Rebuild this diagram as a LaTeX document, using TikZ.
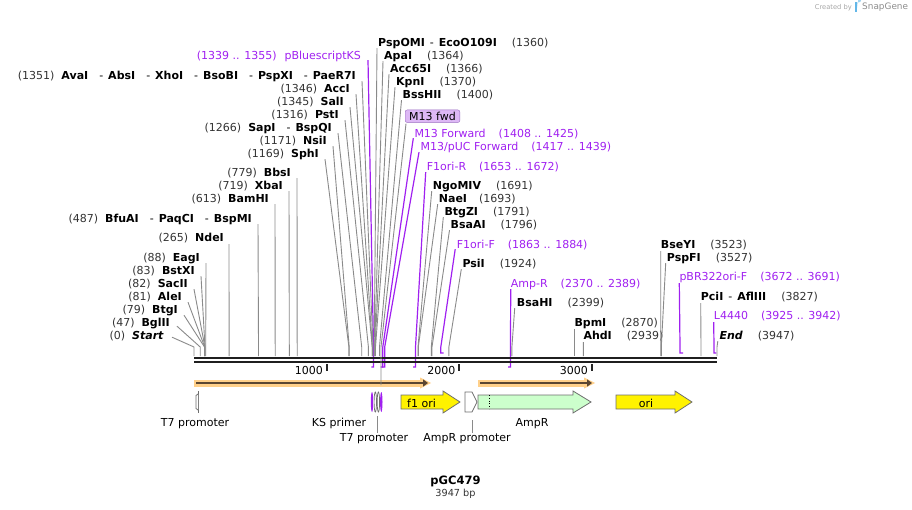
\documentclass[tikz,border=0pt]{standalone}
\usepackage{fontspec}
\setmainfont{DejaVu Sans}
\usepackage{xcolor}
\usetikzlibrary{arrows.meta}
\definecolor{numgray}{HTML}{333333}
\definecolor{cutgray}{HTML}{8A8A8A}
\definecolor{primer}{HTML}{A020F0}
\definecolor{boxlilac}{HTML}{DDB8F5}
\definecolor{boxedge}{HTML}{9A6CC0}
\definecolor{orfband}{HTML}{FFD08A}
\definecolor{orfline}{HTML}{5A4632}
\definecolor{featedge}{HTML}{6E6E6E}
\definecolor{ampgreen}{HTML}{CCFFCC}
\definecolor{logoblue}{HTML}{63B7E8}
\newcommand{\bpn}[1]{\textcolor{numgray}{(#1)}}
\newcommand{\enz}[1]{\textbf{#1}}

\begin{document}
\begin{tikzpicture}[x=1pt,y=-1pt,
  lab/.style={inner sep=0pt,yshift=-1.2pt,font=\fontsize{11}{13}\selectfont},
  labl/.style={lab,anchor=east},
  labr/.style={lab,anchor=west},
  cut/.style={cutgray,line width=0.9pt},
  prim/.style={primer,line width=1.2pt},
  feat/.style={draw=featedge,line width=0.8pt}]
\useasboundingbox (0,0) rectangle (912,510);
\coordinate (bb) at (194,356);

% sites left of the cluster
\node[labl,text=primer] (pbks) at (361,55) {(1339 .. 1355)\hspace{8pt}pBluescriptKS};
\coordinate (pbksT) at (373.5,347);
\coordinate (pbksH) at (371.4,367);
\draw[prim] ([shift={(7,4)}]pbks.east) -- (pbksT) -- (pbksT |- pbksH) -- (pbksH);
\node[labl] (avaI) at (356,75) {\bpn{1351}\hspace{7pt}\enz{AvaI}\hspace{11pt}-\hspace{5pt}\enz{AbsI}\hspace{11pt}-\hspace{5pt}\enz{XhoI}\hspace{11pt}-\hspace{5pt}\enz{BsoBI}\hspace{11pt}-\hspace{5pt}\enz{PspXI}\hspace{11pt}-\hspace{5pt}\enz{PaeR7I}};
\coordinate (s1351) at (373,347);
\draw[cut] ([shift={(6,5)}]avaI.east) -- (s1351) -- (s1351 |- bb);
\node[labl] (accI) at (350,88) {\bpn{1346}\hspace{7pt}\enz{AccI}};
\coordinate (s1346) at (372.3,347);
\draw[cut] ([shift={(6,5)}]accI.east) -- (s1346) -- (s1346 |- bb);
\node[labl] (salI) at (344,101) {\bpn{1345}\hspace{7pt}\enz{SalI}};
\coordinate (s1345) at (372.2,347);
\draw[cut] ([shift={(6,5)}]salI.east) -- (s1345) -- (s1345 |- bb);
\node[labl] (pstI) at (339,114) {\bpn{1316}\hspace{7pt}\enz{PstI}};
\coordinate (s1316) at (368.4,347);
\draw[cut] ([shift={(6,5)}]pstI.east) -- (s1316) -- (s1316 |- bb);
\node[labl] (sapI) at (332,127) {\bpn{1266}\hspace{7pt}\enz{SapI}\hspace{11pt}-\hspace{5pt}\enz{BspQI}};
\coordinate (s1266) at (361.7,347);
\draw[cut] ([shift={(6,5)}]sapI.east) -- (s1266) -- (s1266 |- bb);
\node[labl] (nsiI) at (327,140) {\bpn{1171}\hspace{7pt}\enz{NsiI}};
\coordinate (s1171) at (349.2,347);
\draw[cut] ([shift={(6,5)}]nsiI.east) -- (s1171) -- (s1171 |- bb);
\node[labl] (sphI) at (319,153) {\bpn{1169}\hspace{7pt}\enz{SphI}};
\coordinate (s1169) at (348.9,347);
\draw[cut] ([shift={(6,5)}]sphI.east) -- (s1169) -- (s1169 |- bb);
\node[labl] (bbsI) at (291,172) {\bpn{779}\hspace{7pt}\enz{BbsI}};
\coordinate (s779) at (297.2,347);
\draw[cut] ([shift={(6,5)}]bbsI.east) -- (s779) -- (s779 |- bb);
\node[labl] (xbaI) at (283,185) {\bpn{719}\hspace{7pt}\enz{XbaI}};
\coordinate (s719) at (289.3,347);
\draw[cut] ([shift={(6,5)}]xbaI.east) -- (s719) -- (s719 |- bb);
\node[labl] (bamHI) at (269,198) {\bpn{613}\hspace{7pt}\enz{BamHI}};
\coordinate (s613) at (275.2,347);
\draw[cut] ([shift={(6,5)}]bamHI.east) -- (s613) -- (s613 |- bb);
\node[labl] (bfuAI) at (252,218) {\bpn{487}\hspace{7pt}\enz{BfuAI}\hspace{11pt}-\hspace{5pt}\enz{PaqCI}\hspace{11pt}-\hspace{5pt}\enz{BspMI}};
\coordinate (s487) at (258.5,347);
\draw[cut] ([shift={(6,5)}]bfuAI.east) -- (s487) -- (s487 |- bb);
\node[labl] (ndeI) at (224,237) {\bpn{265}\hspace{7pt}\enz{NdeI}};
\coordinate (s265) at (229.1,347);
\draw[cut] ([shift={(5,6)}]ndeI.east) -- (s265) -- (s265 |- bb);
\node[labl] (eagI) at (200,257) {\bpn{88}\hspace{7pt}\enz{EagI}};
\coordinate (s88) at (205.7,347);
\draw[cut] ([shift={(6,5)}]eagI.east) -- (s88) -- (s88 |- bb);
\node[labl] (bstXI) at (195,270) {\bpn{83}\hspace{7pt}\enz{BstXI}};
\coordinate (s83) at (205,347);
\draw[cut] ([shift={(6,5)}]bstXI.east) -- (s83) -- (s83 |- bb);
\node[labl] (sacII) at (188,283) {\bpn{82}\hspace{7pt}\enz{SacII}};
\coordinate (s82) at (204.9,347);
\draw[cut] ([shift={(6,5)}]sacII.east) -- (s82) -- (s82 |- bb);
\node[labl] (aleI) at (182,296) {\bpn{81}\hspace{7pt}\enz{AleI}};
\coordinate (s81) at (204.7,347);
\draw[cut] ([shift={(6,5)}]aleI.east) -- (s81) -- (s81 |- bb);
\node[labl] (btgI) at (178,309) {\bpn{79}\hspace{7pt}\enz{BtgI}};
\coordinate (s79) at (204.5,347);
\draw[cut] ([shift={(6,5)}]btgI.east) -- (s79) -- (s79 |- bb);
\node[labl] (bglII) at (170,322) {\bpn{47}\hspace{7pt}\enz{BglII}};
\coordinate (s47) at (200.2,347);
\draw[cut] ([shift={(7,3)}]bglII.east) -- (s47) -- (s47 |- bb);
\node[labl] (start) at (164,335) {\bpn{0}\hspace{7pt}\enz{\itshape Start}};
\coordinate (s0) at (194,347);
\draw[cut] ([shift={(8,1)}]start.east) -- (s0) -- (s0 |- bb);

% sites right of the cluster
\node[labr] (pspOMI) at (378,42) {\enz{PspOMI}\hspace{5pt}-\hspace{5pt}\enz{EcoO109I}\hspace{15pt}\bpn{1360}};
\coordinate (s1360) at (374.2,347);
\draw[cut] ([shift={(-1,5)}]pspOMI.west) -- (s1360) -- (s1360 |- bb);
\node[labr] (apaI) at (384,55) {\enz{ApaI}\hspace{15pt}\bpn{1364}};
\coordinate (s1364) at (374.7,347);
\draw[cut] ([shift={(-1,5)}]apaI.west) -- (s1364) -- (s1364 |- bb);
\node[labr] (acc65I) at (390,68) {\enz{Acc65I}\hspace{15pt}\bpn{1366}};
\coordinate (s1366) at (375,347);
\draw[cut] ([shift={(-1,5)}]acc65I.west) -- (s1366) -- (s1366 |- bb);
\node[labr] (kpnI) at (396,81) {\enz{KpnI}\hspace{15pt}\bpn{1370}};
\coordinate (s1370) at (375.5,347);
\draw[cut] ([shift={(-1,5)}]kpnI.west) -- (s1370) -- (s1370 |- bb);
\node[labr] (bssHII) at (402.5,94) {\enz{BssHII}\hspace{15pt}\bpn{1400}};
\coordinate (s1400) at (379.5,347);
\draw[cut] ([shift={(-1,5)}]bssHII.west) -- (s1400) -- (s1400 |- bb);
\node[lab,anchor=west,draw=boxedge,fill=boxlilac,rounded corners=2pt,inner xsep=4pt,minimum height=12.5pt] (m13box) at (405,115) {M13 fwd};
\coordinate (m13F) at (381,347);
\node[labr,text=primer] (m13fw) at (414.3,133) {M13 Forward\hspace{13pt}(1408 .. 1425)};
\coordinate (m13fwT) at (382.8,347);
\coordinate (m13fwH) at (380.6,367);
\draw[prim] ([shift={(-1,4)}]m13fw.west) -- (m13fwT) -- (m13fwT |- m13fwH) -- (m13fwH);
\node[labr,text=primer] (m13puc) at (420.5,146) {M13/pUC Forward\hspace{13pt}(1417 .. 1439)};
\coordinate (m13pucT) at (384.7,347);
\coordinate (m13pucH) at (381.8,367);
\draw[prim] ([shift={(-1.5,5)}]m13puc.west) -- (m13pucT) -- (m13pucT |- m13pucH) -- (m13pucH);
\node[labr,text=primer] (f1r) at (426.7,166) {F1ori-R\hspace{13pt}(1653 .. 1672)};
\coordinate (f1rT) at (415.5,347);
\coordinate (f1rH) at (413,367);
\draw[prim] ([shift={(-1,5)}]f1r.west) -- (f1rT) -- (f1rT |- f1rH) -- (f1rH);
\node[labr] (ngoMIV) at (432.7,185) {\enz{NgoMIV}\hspace{15pt}\bpn{1691}};
\coordinate (s1691) at (418,347);
\draw[cut] ([shift={(-1,5)}]ngoMIV.west) -- (s1691) -- (s1691 |- bb);
\node[labr] (naeI) at (438.7,198) {\enz{NaeI}\hspace{12pt}\bpn{1693}};
\coordinate (s1693) at (418.3,347);
\draw[cut] ([shift={(-1,5)}]naeI.west) -- (s1693) -- (s1693 |- bb);
\node[labr] (btgZI) at (444.3,211) {\enz{BtgZI}\hspace{15pt}\bpn{1791}};
\coordinate (s1791) at (431.3,347);
\draw[cut] ([shift={(-1,5)}]btgZI.west) -- (s1791) -- (s1791 |- bb);
\node[labr] (bsaAI) at (450.5,224) {\enz{BsaAI}\hspace{15pt}\bpn{1796}};
\coordinate (s1796) at (432,347);
\draw[cut] ([shift={(-1,5)}]bsaAI.west) -- (s1796) -- (s1796 |- bb);
\node[labr,text=primer] (f1f) at (456.7,244) {F1ori-F\hspace{13pt}(1863 .. 1884)};
\coordinate (f1fT) at (440.8,347);
\coordinate (f1fH) at (443.6,353);
\draw[prim] ([shift={(-1.5,4)}]f1f.west) -- (f1fT) -- (f1fT |- f1fH) -- (f1fH);
\node[labr] (psiI) at (462.3,263) {\enz{PsiI}\hspace{15pt}\bpn{1924}};
\coordinate (s1924) at (448.9,347);
\draw[cut] ([shift={(-1,5)}]psiI.west) -- (s1924) -- (s1924 |- bb);
\node[labr,text=primer] (ampr) at (510.7,283) {Amp-R\hspace{13pt}(2370 .. 2389)};
\coordinate (amprT) at (510.5,347);
\coordinate (amprH) at (508,367);
\draw[prim] ([shift={(0,5)}]ampr.west) -- (amprT) -- (amprT |- amprH) -- (amprH);
\node[labr] (bsaHI) at (516.7,302) {\enz{BsaHI}\hspace{15pt}\bpn{2399}};
\coordinate (s2399) at (511.9,347);
\draw[cut] ([shift={(-2,5)}]bsaHI.west) -- (s2399) -- (s2399 |- bb);
\node[labr] (bpmI) at (574.3,322) {\enz{BpmI}\hspace{15pt}\bpn{2870}};
\coordinate (s2870) at (574.3,347);
\draw[cut] ([shift={(0,6)}]bpmI.west) -- (s2870) -- (s2870 |- bb);
\node[labr] (ahdI) at (583.3,335) {\enz{AhdI}\hspace{15pt}\bpn{2939}};
\coordinate (s2939) at (583.4,347);
\draw[cut] ([shift={(0,6)}]ahdI.west) -- (s2939) -- (s2939 |- bb);
\node[labr] (bseYI) at (660.7,244) {\enz{BseYI}\hspace{15pt}\bpn{3523}};
\coordinate (s3523) at (660.8,347);
\draw[cut] ([shift={(0,6)}]bseYI.west) -- (s3523) -- (s3523 |- bb);
\node[labr] (pspFI) at (666.7,257) {\enz{PspFI}\hspace{15pt}\bpn{3527}};
\coordinate (s3527) at (661.3,347);
\draw[cut] ([shift={(-1,5)}]pspFI.west) -- (s3527) -- (s3527 |- bb);
\node[labr,text=primer] (pbr) at (679.3,276) {pBR322ori-F\hspace{13pt}(3672 .. 3691)};
\coordinate (pbrT) at (680,347);
\coordinate (pbrH) at (683,353);
\draw[prim] ([shift={(0,6)}]pbr.west) -- (pbrT) -- (pbrT |- pbrH) -- (pbrH);
\node[labr] (pciI) at (700.7,296) {\enz{PciI}\hspace{5pt}-\hspace{5pt}\enz{AflIII}\hspace{15pt}\bpn{3827}};
\coordinate (s3827) at (701,347);
\draw[cut] ([shift={(0,6)}]pciI.west) -- (s3827) -- (s3827 |- bb);
\node[labr,text=primer] (l4440) at (713.7,315) {L4440\hspace{13pt}(3925 .. 3942)};
\coordinate (l4440T) at (714,347);
\coordinate (l4440H) at (716.4,353);
\draw[prim] ([shift={(0,6)}]l4440.west) -- (l4440T) -- (l4440T |- l4440H) -- (l4440H);
\node[labr] (end) at (719.3,335) {\enz{\itshape End}\hspace{15pt}\bpn{3947}};
\coordinate (s3947) at (717,347);
\draw[cut] ([shift={(-1.5,5)}]end.west) -- (s3947) -- (s3947 |- bb);

% backbone and ruler
\draw[black!88,line width=2.4pt] (194,357.8) -- (717,357.8);
\draw[black!88,line width=2.4pt] (194,362.2) -- (717,362.2);
\draw[black!85,line width=2pt] (326.5,364) -- (326.5,371);
\node[labl] (k1) at (323,369) {1000};
\draw[black!85,line width=2pt] (459,364) -- (459,371);
\node[labl] (k2) at (455.5,369) {2000};
\draw[black!85,line width=2pt] (591.5,364) -- (591.5,371);
\node[labl] (k3) at (588,369) {3000};

% open reading frames
\draw[orfband,line width=7pt] (194,383) -- (424,383);
\fill[orfband] (420,377.5) -- (431,383) -- (420,388.5) -- cycle;
\draw[orfline,line width=2.4pt,-{Triangle[length=5pt,width=7pt]}] (196,383) -- (428,383);
\draw[orfband,line width=7pt] (478,383) -- (587,383);
\fill[orfband] (584,377.5) -- (595,383) -- (584,388.5) -- cycle;
\draw[orfline,line width=2.4pt,-{Triangle[length=5pt,width=7pt]}] (480,383) -- (592,383);
\draw[cut] ([shift={(1,1)}]m13box.south west) -- (m13F) -- (m13F |- 0,385);

% features
\draw[featedge,line width=0.8pt] (198,391) -- (198,413);
\draw[featedge,line width=0.8pt,fill=white] (198,394) -- (196,395.5) -- (196,408.5) -- (198,410);
\node[lab] (t7a) at (195,422) {T7 promoter};
\fill[primer] (372,402) ellipse (1.2 and 10);
\draw[featedge,line width=0.7pt,fill=white] (375.3,402) ellipse (1.2 and 10);
\draw[featedge,line width=0.7pt,fill=white] (378.4,402) ellipse (1.2 and 10);
\fill[primer] (381.3,402) ellipse (1.2 and 10);
\node[lab] (ks) at (339,422) {KS primer};
\node[lab] (t7b) at (374,437) {T7 promoter};
\coordinate (t7bF) at (377,416);
\draw[cut] (t7bF) -- (t7bF |- t7b.north);
\draw[feat,fill=yellow] (401,395) -- (443,395) -- (443,391) -- (460,402) -- (443,413) -- (443,409) -- (401,409) -- cycle;
\node[lab] (f1ori) at (421.5,402) {f1 ori};
\draw[feat,fill=white] (465,392) -- (472,392) -- (477,402) -- (472,412) -- (465,412) -- cycle;
\node[lab] (amppro) at (467,437) {AmpR promoter};
\coordinate (ampproF) at (472,420);
\draw[cut] (ampproF) -- (ampproF |- amppro.north);
\draw[feat,fill=ampgreen] (478,395) -- (573,395) -- (573,391) -- (591,402) -- (573,413) -- (573,409) -- (478,409) -- cycle;
\draw[black,line width=0.8pt,dotted] (489,395) -- (489,409);
\node[lab] (ampR) at (532,422) {AmpR};
\draw[feat,fill=yellow] (616,395) -- (675,395) -- (675,391) -- (692,402) -- (675,413) -- (675,409) -- (616,409) -- cycle;
\node[lab] (ori) at (646,402) {ori};

% title
\node[inner sep=0pt,font=\fontsize{11.5}{13}\selectfont\bfseries] (name) at (455.5,481) {pGC479};
\node[inner sep=0pt,font=\fontsize{9.7}{12}\selectfont,text=numgray] (size) at (455.5,494) {3947 bp};

% credit
\node[anchor=east,inner sep=0pt,text=black!35,font=\fontsize{6.7}{8}\selectfont] (cby) at (852,7.5) {Created by};
\fill[logoblue] (855,2.5) rectangle (857.3,12.5);
\fill[logoblue!60] (857.3,2.5) -- (858.5,2.5) arc (90:-90:2.7) -- (857.3,7.9) -- cycle;
\node[anchor=west,inner sep=0pt,text=black!45,font=\fontsize{8.9}{10}\selectfont] (sg) at (862,7.5) {SnapGene};
\end{tikzpicture}
\end{document}
